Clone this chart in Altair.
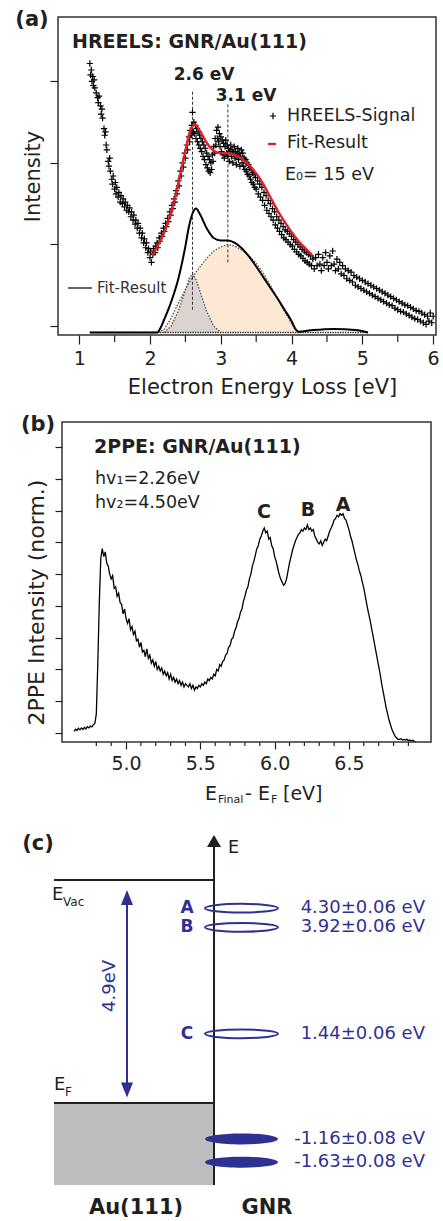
import altair as alt
import pandas as pd

FONT = "DejaVu Sans"
DARK = "#231f20"
BLUE = "#2e3192"
RED = "#e41e26"
PEACH = "#fde8d3"
GREYFILL = "#d9d4d1"
AUGRAY = "#bcbec0"

# ---------------- (a) HREELS data ----------------
hreels_points = [
    (1.15,3.22),(1.16,3.08),(1.17,3.14),(1.18,3.0),(1.19,3.06),(1.20,2.95),(1.21,3.02),(1.22,2.92),(1.24,2.86),(1.26,2.8),
    (1.27,2.74),(1.28,2.82),(1.30,2.7),(1.31,2.6),(1.32,2.66),(1.33,2.55),(1.35,2.42),(1.36,2.34),(1.37,2.38),(1.38,2.22),
    (1.39,2.16),(1.41,2.02),(1.42,1.96),(1.43,2.06),(1.44,1.9),(1.46,1.8),(1.47,1.74),(1.48,1.84),(1.50,1.68),(1.51,1.76),
    (1.52,1.62),(1.53,1.7),(1.55,1.58),(1.56,1.64),(1.58,1.52),(1.59,1.6),
    (1.61,1.5),(1.62,1.56),(1.64,1.46),(1.65,1.52),(1.67,1.42),(1.68,1.48),(1.70,1.4),(1.71,1.45),(1.73,1.34),(1.74,1.4),
    (1.76,1.3),(1.77,1.36),(1.79,1.25),(1.80,1.3),(1.82,1.2),(1.83,1.26),(1.85,1.14),(1.86,1.2),(1.88,1.08),(1.89,1.14),
    (1.91,1.02),(1.92,1.07),(1.94,0.96),(1.95,1.02),(1.97,0.9),(1.98,0.95),(2.00,0.84),(2.01,0.92),(2.02,0.78),
    (2.04,0.88),(2.05,0.95),(2.07,0.9),(2.08,0.98),(2.10,1.02),(2.11,0.96),(2.13,1.08),(2.14,1.04),(2.16,1.14),(2.17,1.1),
    (2.19,1.2),(2.20,1.16),(2.22,1.26),(2.23,1.22),(2.25,1.32),(2.26,1.28),(2.28,1.4),(2.29,1.36),(2.31,1.48),(2.32,1.44),
    (2.34,1.56),(2.35,1.52),(2.37,1.66),(2.38,1.62),(2.40,1.78),(2.41,1.72),(2.43,1.9),(2.44,1.84),(2.46,2.0),(2.47,1.95),
    (2.49,2.12),(2.50,2.06),(2.52,2.22),(2.53,2.16),(2.55,2.32),(2.56,2.26),(2.57,2.4),(2.58,2.34),(2.59,2.46),(2.60,2.62),
    (2.61,2.38),
    (2.62,2.5),(2.63,2.36),(2.64,2.46),(2.65,2.3),(2.66,2.42),(2.67,2.26),(2.68,2.38),(2.69,2.22),(2.70,2.34),(2.71,2.18),
    (2.72,2.3),(2.73,2.14),(2.74,2.26),(2.75,2.08),(2.76,2.22),(2.77,2.04),(2.78,2.18),(2.79,1.98),(2.80,2.12),(2.81,1.94),
    (2.82,2.08),(2.83,1.9),(2.84,2.04),(2.85,1.88),(2.86,2.0),(2.87,1.92),(2.88,2.1),(2.89,2.02),(2.90,2.2),(2.91,2.12),
    (2.92,2.3),(2.93,2.22),(2.94,2.4),(2.95,2.3),(2.96,2.44),(2.97,2.26),(2.98,2.36),(2.99,2.2),(3.00,2.32),(3.01,2.14),
    (3.02,2.28),(3.03,2.1),(3.04,2.24),(3.05,2.06),(3.06,2.2),(3.07,2.28),(3.08,2.12),(3.09,2.22),(3.10,2.08),(3.11,2.18),
    (3.12,2.02),(3.13,2.14),(3.14,2.22),(3.15,2.08),(3.16,2.16),(3.17,2.0),(3.18,2.12),(3.19,2.2),(3.20,2.06),(3.21,2.14),
    (3.22,1.98),(3.23,2.1),(3.24,2.18),(3.25,2.04),(3.26,2.12),(3.27,1.96),(3.28,2.08),(3.29,2.16),(3.30,2.0),
    (3.31,2.12),(3.32,1.96),(3.33,2.06),(3.34,1.92),(3.35,2.04),(3.36,1.9),(3.37,2.0),(3.38,1.86),(3.39,1.98),(3.40,1.84),
    (3.41,1.94),(3.42,1.8),(3.43,1.92),(3.44,1.76),(3.45,1.88),(3.46,1.74),(3.47,1.86),(3.48,1.7),(3.49,1.82),(3.50,1.68),
    (3.52,1.78),(3.53,1.62),(3.55,1.74),(3.56,1.58),(3.58,1.7),(3.59,1.54),(3.61,1.64),(3.62,1.48),(3.64,1.6),(3.65,1.42),
    (3.67,1.54),(3.68,1.38),(3.70,1.5),(3.71,1.34),(3.73,1.44),(3.74,1.3),(3.76,1.4),(3.77,1.24),(3.79,1.34),(3.80,1.2),
    (3.82,1.3),(3.83,1.16),(3.85,1.26),(3.86,1.12),(3.88,1.22),(3.89,1.08),(3.91,1.18),(3.92,1.06),(3.94,1.16),(3.95,1.03),
    (3.97,1.13),(3.98,1.0),(4.00,1.1),(4.01,0.98),(4.03,1.06),(4.04,0.94),(4.06,1.03),(4.07,0.91),(4.09,1.0),(4.10,0.88),
    (4.12,0.97),(4.13,0.86),(4.15,0.94),(4.16,0.83),(4.18,0.92),(4.19,0.8),(4.21,0.9),(4.22,0.78),(4.24,0.88),(4.25,0.76),
    (4.27,0.86),(4.28,0.74),(4.30,0.82),
    (4.32,0.7),(4.34,0.84),(4.36,0.74),(4.38,0.88),(4.40,0.76),(4.42,0.68),(4.44,0.84),(4.46,0.74),(4.48,0.9),(4.50,0.78),
    (4.52,0.7),(4.54,0.86),(4.56,0.74),(4.58,0.92),(4.60,0.76),(4.62,0.68),(4.64,0.82),(4.66,0.7),(4.68,0.78),(4.70,0.64),
    (4.72,0.74),(4.74,0.62),(4.76,0.7),(4.78,0.58),(4.80,0.68),(4.82,0.56),(4.84,0.66),(4.86,0.54),(4.88,0.62),(4.90,0.5),
    (4.92,0.6),(4.94,0.48),(4.96,0.58),(4.98,0.46),(5.00,0.56),(5.02,0.44),(5.04,0.54),(5.06,0.42),(5.08,0.52),(5.10,0.4),
    (5.12,0.5),(5.14,0.38),(5.16,0.48),(5.18,0.36),(5.20,0.46),(5.22,0.34),(5.24,0.44),(5.26,0.32),(5.28,0.42),(5.30,0.3),
    (5.32,0.4),(5.34,0.28),(5.36,0.38),(5.38,0.26),(5.40,0.36),(5.42,0.25),(5.44,0.34),(5.46,0.22),(5.48,0.32),(5.50,0.2),
    (5.52,0.3),(5.54,0.18),(5.56,0.28),(5.58,0.17),(5.60,0.26),(5.62,0.15),(5.64,0.25),(5.66,0.13),(5.68,0.23),(5.70,0.11),
    (5.72,0.21),(5.74,0.09),(5.76,0.19),(5.78,0.08),(5.80,0.18),(5.82,0.06),(5.84,0.16),(5.86,0.04),(5.88,0.14),(5.90,0.02),
    (5.92,0.12),(5.94,0.06),(5.96,0.16),(5.98,0.04),(6.00,0.12),
]

fit_red_x = [2.03,2.1,2.2,2.3,2.4,2.5,2.57,2.64,2.7,2.8,2.9,3.0,3.1,3.2,3.3,3.4,3.5,3.6,3.7,3.8,3.9,4.0,4.1,4.2,4.29]
fit_red_y = [0.86,0.97,1.15,1.4,1.75,2.15,2.4,2.47,2.4,2.25,2.15,2.12,2.12,2.1,2.05,1.97,1.87,1.74,1.58,1.42,1.28,1.15,1.04,0.95,0.87]

fit_tot_x = [1.15,2.1,2.15,2.2,2.3,2.4,2.5,2.55,2.6,2.65,2.7,2.8,2.9,3.0,3.1,3.2,3.3,3.4,3.5,3.6,3.7,3.8,3.9,4.0,4.05,4.1,4.3,4.6,4.9,5.08]
fit_tot_y = [-0.08,-0.08,-0.02,0.08,0.3,0.58,0.98,1.22,1.38,1.44,1.38,1.2,1.08,1.05,1.05,1.02,0.95,0.85,0.73,0.6,0.47,0.34,0.2,0.06,-0.03,-0.07,-0.05,-0.035,-0.05,-0.08]

peak1_x = [2.2,2.3,2.4,2.5,2.55,2.6,2.65,2.7,2.8,2.9,3.0]
peak1_y = [-0.08,0.0,0.18,0.44,0.58,0.64,0.57,0.44,0.18,0.0,-0.08]

peak2_x = [2.12,2.2,2.3,2.4,2.5,2.6,2.7,2.8,2.9,3.0,3.1,3.2,3.3,3.4,3.5,3.6,3.7,3.8,3.9,4.0,4.05,4.1]
peak2_y = [-0.08,-0.04,0.1,0.28,0.45,0.6,0.72,0.83,0.92,0.97,1.0,0.98,0.93,0.86,0.77,0.65,0.5,0.34,0.18,0.03,-0.04,-0.08]

fit_baseline = -0.08
baseline_x = [1.15, 5.08]

peak_marks_x = [2.6, 3.1]
peak_marks_top = [2.9, 2.74]
peak_marks_bottom = [0.2, 0.78]

a_xticks_major = [1, 2, 3, 4, 5, 6]
a_xticks_minor = [1.5, 2.5, 3.5, 4.5, 5.5]
a_yticks = [0, 1, 2, 3]

# ---------------- (b) 2PPE data ----------------
ppe_start = 4.65
ppe_step = 0.01
ppe_y = [
    0.05,0.12,0.08,0.15,0.1,0.16,0.11,0.18,0.13,0.2,
    0.16,0.22,0.19,0.26,0.3,0.6,2.2,4.1,5.5,5.8,
    5.55,5.7,5.35,5.25,5.0,4.85,4.95,4.55,4.6,4.3,
    4.4,4.1,4.05,3.75,3.9,3.6,3.45,3.6,3.25,3.35,
    3.1,3.2,2.9,2.95,2.7,2.85,2.55,2.6,2.4,2.65,
    2.35,2.45,2.2,2.3,2.1,2.25,2.0,2.1,1.95,2.05,
    1.85,1.95,1.8,1.9,1.7,1.85,1.65,1.75,1.6,1.7,
    1.55,1.65,1.5,1.6,1.45,1.55,1.5,1.45,1.55,1.4,
    1.5,1.35,1.45,1.4,1.5,1.45,1.55,1.5,1.6,1.55,
    1.7,1.65,1.75,1.7,1.85,1.8,2.0,1.95,2.15,2.1,
    2.25,2.3,2.45,2.5,2.7,2.75,2.95,3.0,3.2,3.3,
    3.5,3.6,3.8,3.9,4.15,4.3,4.5,4.6,4.85,5.0,
    5.25,5.4,5.6,5.8,5.9,6.1,6.2,6.35,6.45,6.3,
    6.35,6.1,6.15,5.9,5.8,5.55,5.4,5.2,5.0,4.85,
    4.75,4.65,4.7,4.85,5.1,5.35,5.55,5.75,5.9,6.05,
    6.15,6.25,6.3,6.4,6.35,6.45,6.4,6.55,6.4,6.45,
    6.35,6.4,6.2,6.1,6.0,5.95,6.05,5.9,6.0,6.1,
    6.05,6.2,6.35,6.45,6.55,6.7,6.75,6.85,6.8,6.9,
    6.85,6.9,6.75,6.7,6.55,6.4,6.2,6.05,5.85,5.65,
    5.45,5.3,5.1,4.95,4.75,4.55,4.3,4.05,3.8,3.6,
    3.35,3.1,2.85,2.6,2.35,2.1,1.85,1.55,1.3,1.05,
    0.8,0.6,0.4,0.25,0.1,0.0,-0.1,-0.15,-0.2,-0.2,
    -0.18,-0.22,-0.2,-0.22,-0.2,-0.24,-0.22,-0.25,-0.23,-0.26,
    -0.28,
]
b_xticks_major = [5.0, 5.5, 6.0, 6.5]
b_xticks_minor = [4.8, 4.9, 5.1, 5.2, 5.3, 5.4, 5.6, 5.7, 5.8, 5.9, 6.1, 6.2, 6.3, 6.4, 6.6, 6.7, 6.8, 6.9]
b_yticks = [0, 1, 2, 3, 4, 5, 6, 7, 8, 9]
peak_letters = ["C", "B", "A"]

# ---------------- (c) level diagram data ----------------
e_vac = 4.9
e_fermi = 0.0
au_bottom = -1.80
state_letter = ["A", "B", "C", "", ""]
state_text = ["4.30±0.06 eV", "3.92±0.06 eV", "1.44±0.06 eV", "-1.16±0.08 eV", "-1.63±0.08 eV"]
state_pos = [4.28, 3.86, 1.52, -0.79, -1.30]   # drawn positions in the schematic
state_filled = [False, False, False, True, True]

# ---------------- helpers ----------------
ONE = pd.DataFrame({"k": [0]})


def T(s, x, y, size, weight="normal", color=DARK, align="left", angle=0):
    kw = dict(text=s, fontSize=size, fontWeight=weight, color=color, align=align,
              baseline="middle", font=FONT)
    if angle:
        kw["angle"] = angle
    return alt.Chart(ONE).mark_text(**kw).encode(x=alt.value(x), y=alt.value(y))


PLUS = "M-1,0L1,0M0,-1L0,1"

# ================= panel (a) =================
WA, HA = 378, 318
xa = alt.Scale(domain=[0.70, 6.04], nice=False, zero=False)
ya = alt.Scale(domain=[-0.11, 3.79], nice=False, zero=False)
ax_xa = alt.Axis(values=a_xticks_major, format="d", tickSize=9, tickWidth=1.2, labelFontSize=19,
                 labelPadding=5, labelFlush=False, title="Electron Energy Loss [eV]",
                 titleFontSize=21, titleFontWeight="normal", titlePadding=8, titleX=204,
                 domain=False, grid=False)
ax_ya = alt.Axis(values=a_yticks, labels=False, tickSize=8, tickWidth=1.2, title="Intensity",
                 titleFontSize=21, titleFontWeight="normal", titlePadding=6, domain=False, grid=False)


def XA(f):
    return alt.X(f, type="quantitative", scale=xa, axis=ax_xa)


def YA(f):
    return alt.Y(f, type="quantitative", scale=ya, axis=ax_ya)


df_p1 = pd.DataFrame({"x": peak1_x, "y": peak1_y, "base": fit_baseline})
df_p2 = pd.DataFrame({"x": peak2_x, "y": peak2_y, "base": fit_baseline})
df_tot = pd.DataFrame({"x": fit_tot_x, "y": fit_tot_y})
df_red = pd.DataFrame({"x": fit_red_x, "y": fit_red_y})
df_pts = pd.DataFrame({"x": [p[0] for p in hreels_points], "y": [p[1] for p in hreels_points]})
df_base = pd.DataFrame({"x": baseline_x, "y": [fit_baseline, fit_baseline]})
df_marks = pd.DataFrame({"x": peak_marks_x, "y1": peak_marks_bottom, "y2": peak_marks_top})
df_minor_a = pd.DataFrame({"x": a_xticks_minor})

a_layers = [
    alt.Chart(df_p2).mark_area(color=PEACH, opacity=1).encode(x=XA("x"), y=YA("y"), y2=alt.Y2("base")),
    alt.Chart(df_p1).mark_area(color=GREYFILL, opacity=1).encode(x=XA("x"), y=YA("y"), y2=alt.Y2("base")),
    alt.Chart(df_p2).mark_line(color="#555", strokeWidth=1.3, strokeDash=[1.5, 1.5]).encode(x=XA("x"), y=YA("y")),
    alt.Chart(df_p1).mark_line(color="#555", strokeWidth=1.3, strokeDash=[1.5, 1.5]).encode(x=XA("x"), y=YA("y")),
    alt.Chart(df_base).mark_line(color="#333", strokeWidth=1.5, strokeDash=[1.5, 1]).encode(x=XA("x"), y=YA("y")),
    alt.Chart(df_marks).mark_rule(color="#333", strokeWidth=1, strokeDash=[3, 2]).encode(
        x=XA("x"), y=YA("y1"), y2=alt.Y2("y2")),
    alt.Chart(df_tot).mark_line(color="black", strokeWidth=2, interpolate="monotone").encode(x=XA("x"), y=YA("y")),
    alt.Chart(df_pts).mark_point(shape=PLUS, size=40, filled=False, stroke="black", strokeWidth=1.2,
                                 opacity=1).encode(x=XA("x"), y=YA("y")),
    alt.Chart(df_red).mark_line(color=RED, strokeWidth=2.4, interpolate="monotone").encode(x=XA("x"), y=YA("y")),
    alt.Chart(df_minor_a).mark_rule(color=DARK, strokeWidth=1.2).encode(
        x=XA("x"), y=alt.value(HA), y2=alt.value(HA + 7)),
    alt.Chart(ONE).mark_rect(fillOpacity=0, stroke="#333", strokeWidth=1.5).encode(
        x=alt.value(0), x2=alt.value(WA), y=alt.value(0), y2=alt.value(HA)),
    alt.Chart(ONE).mark_rect(opacity=0).encode(
        x=alt.value(-58), x2=alt.value(-57), y=alt.value(-17), y2=alt.value(-16)),
    T("(a)", -26, 3, 21, "bold", align="center"),
    T("HREELS: GNR/Au(111)", 14, 25, 19, "bold"),
    T("2.6 eV", 146, 58, 17, "bold", align="center"),
    T("3.1 eV", 188, 79, 17, "bold", align="center"),
    alt.Chart(ONE).mark_point(shape=PLUS, size=40, filled=False, stroke="black", strokeWidth=1.2,
                              opacity=1).encode(x=alt.value(215), y=alt.value(99)),
    T("HREELS-Signal", 229, 99, 17.5),
    alt.Chart(ONE).mark_rule(color=RED, strokeWidth=2.4).encode(
        x=alt.value(210), x2=alt.value(218), y=alt.value(127)),
    T("Fit-Result", 229, 126, 17.5),
    T("E₀= 15 eV", 227, 158, 17.5),
    alt.Chart(ONE).mark_rule(color="#333", strokeWidth=1.5).encode(
        x=alt.value(10), x2=alt.value(34), y=alt.value(271)),
    T("Fit-Result", 39, 271, 15, color="#333"),
]
panel_a = alt.layer(*a_layers).properties(width=WA, height=HA)

# ================= panel (b) =================
WB, HB = 373, 320
xb = alt.Scale(domain=[4.569, 7.052], range=[4, 373], nice=False, zero=False)
yb = alt.Scale(domain=[-0.283, 9.786], nice=False, zero=False)
ax_xb = alt.Axis(values=b_xticks_major, format=".1f", tickSize=7, tickWidth=1.2, labelFontSize=19,
                 labelPadding=5, labelFlush=False, title=None, domain=False, grid=False)
ax_yb = alt.Axis(values=b_yticks, labels=False, tickSize=7, tickWidth=1.2, offset=-4,
                 title="2PPE Intensity (norm.)", titleFontSize=22, titleFontWeight="normal",
                 titlePadding=6, titleY=180, domain=False, grid=False)

df_ppe = pd.DataFrame({"x": [round(ppe_start + i * ppe_step, 2) for i in range(len(ppe_y))], "y": ppe_y})
df_minor_b = pd.DataFrame({"x": b_xticks_minor})

b_layers = [
    alt.Chart(df_ppe).mark_line(color="black", strokeWidth=1.3).encode(
        x=alt.X("x:Q", scale=xb, axis=ax_xb), y=alt.Y("y:Q", scale=yb, axis=ax_yb)),
    alt.Chart(df_minor_b).mark_rule(color=DARK, strokeWidth=1.2).encode(
        x=alt.X("x:Q", scale=xb, axis=ax_xb), y=alt.value(HB), y2=alt.value(HB + 4)),
    alt.Chart(ONE).mark_rect(fillOpacity=0, stroke="#333", strokeWidth=1.5).encode(
        x=alt.value(4), x2=alt.value(WB), y=alt.value(0), y2=alt.value(HB)),
    T("(b)", -20, 3, 21, "bold", align="center"),
    T("2PPE: GNR/Au(111)", 36, 25, 19, "bold"),
    T("hv₁=2.26eV", 37, 57, 17.5),
    T("hv₂=4.50eV", 37, 81, 17.5),
    T(peak_letters[0], 206, 90, 19, "bold", align="center"),
    T(peak_letters[1], 250, 88, 19, "bold", align="center"),
    T(peak_letters[2], 285, 83, 19, "bold", align="center"),
    T("E", 147, 372, 19),
    T("Final", 160, 378, 11),
    T("-", 187, 372, 19),
    T("E", 200, 372, 19),
    T("F", 213, 378, 11),
    T("[eV]", 225, 372, 19),
]
panel_b = alt.layer(*b_layers).properties(width=WB, height=HB)

# ================= panel (c) =================
WC, HC = 378, 390
yc = alt.Scale(domain=[-2.549, 6.021], nice=False, zero=False)


def YC(f):
    return alt.Y(f, type="quantitative", scale=yc, axis=None)


df_levels = pd.DataFrame({"y": [e_vac, e_fermi]})
df_au = pd.DataFrame({"y": [e_fermi], "y2": [au_bottom]})
df_states = pd.DataFrame({"letter": state_letter, "label": state_text, "y": state_pos, "filled": state_filled})

ELL_OPEN = "M-1,0C-1,-0.066,-0.552,-0.12,0,-0.12C0.552,-0.12,1,-0.066,1,0C1,0.066,0.552,0.12,0,0.12C-0.552,0.12,-1,0.066,-1,0Z"
ELL_FILL = "M-1,0C-1,-0.083,-0.552,-0.15,0,-0.15C0.552,-0.15,1,-0.083,1,0C1,0.083,0.552,0.15,0,0.15C-0.552,0.15,-1,0.083,-1,0Z"
ARROW_UP = "M0,-1L0.8,1L-0.8,1Z"
ARROW_DOWN = "M0,1L0.8,-1L-0.8,-1Z"
E_HEAD = "M0,-1L1,0.72L-1,0.72Z"

c_layers = [
    alt.Chart(df_au).mark_rect(color=AUGRAY, opacity=1).encode(
        x=alt.value(-4), x2=alt.value(156), y=YC("y"), y2=alt.Y2("y2")),
    alt.Chart(df_levels).mark_rule(color=DARK, strokeWidth=2).encode(
        x=alt.value(-4), x2=alt.value(156), y=YC("y")),
    alt.Chart(ONE).mark_rule(color=DARK, strokeWidth=2).encode(
        x=alt.value(156), y=alt.value(16), y2=alt.value(356)),
    alt.Chart(ONE).mark_point(shape=E_HEAD, size=196, filled=True, color=DARK, opacity=1).encode(
        x=alt.value(156), y=alt.value(13)),
    T("E", 170, 19, 17.5),
    alt.Chart(ONE).mark_rule(color=BLUE, strokeWidth=2).encode(
        x=alt.value(69), y=alt.value(72), y2=alt.value(256)),
    alt.Chart(ONE).mark_point(shape=ARROW_UP, size=225, filled=True, color=BLUE, opacity=1).encode(
        x=alt.value(69), y=alt.value(68.5)),
    alt.Chart(ONE).mark_point(shape=ARROW_DOWN, size=225, filled=True, color=BLUE, opacity=1).encode(
        x=alt.value(69), y=alt.value(261)),
    T("4.9eV", 52, 157, 18, color=BLUE, align="center", angle=270),
    T("E", -6, 66, 18),
    T("Vac", 5, 73, 12),
    T("E", -4, 256, 18),
    T("F", 7, 263, 12),
    alt.Chart(df_states).transform_filter("!datum.filled").mark_point(
        shape=ELL_OPEN, size=5329, filled=False, stroke=BLUE, strokeWidth=2, opacity=1).encode(
        x=alt.value(183.5), y=YC("y")),
    alt.Chart(df_states).transform_filter("datum.filled").mark_point(
        shape=ELL_FILL, size=5329, filled=True, color=BLUE, opacity=1).encode(
        x=alt.value(183.5), y=YC("y")),
    alt.Chart(df_states).mark_text(fontSize=17, fontWeight="bold", color=BLUE, align="center",
                                   baseline="middle", font=FONT).encode(
        x=alt.value(129), y=YC("y"), text="letter:N"),
    alt.Chart(df_states).mark_text(fontSize=18, color=BLUE, align="right",
                                   baseline="middle", font=FONT).encode(
        x=alt.value(367), y=YC("y"), text="label:N"),
    T("(c)", -20, 15, 21, "bold", align="center"),
    T("Au(111)", 78, 379, 21, "bold", align="center"),
    T("GNR", 209, 379, 21, "bold", align="center"),
    alt.Chart(ONE).mark_rect(opacity=0).encode(
        x=alt.value(384), x2=alt.value(385), y=alt.value(390), y2=alt.value(392)),
]
panel_c = alt.layer(*c_layers).properties(width=WC, height=HC)

chart = alt.vconcat(panel_a, panel_b, panel_c, spacing=87, bounds="flush").properties(
    padding=0
).configure(font=FONT).configure_view(strokeWidth=0).configure_axis(
    labelColor=DARK, titleColor=DARK, tickColor=DARK, labelFont=FONT, titleFont=FONT
)

chart.save("out.html", embed_options={"renderer": "svg", "actions": False})
